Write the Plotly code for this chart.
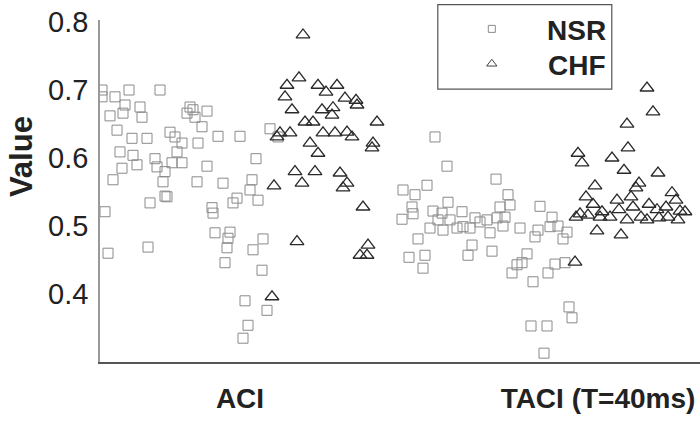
import plotly.graph_objects as go

# Category tick positions and labels on the x axis (jittered scatter)
tick_pos = [1.40, 4.98]
tick_labels = ["ACI", "TACI (T=40ms)"]
y_ticks = [0.4, 0.5, 0.6, 0.7, 0.8]

# NSR (squares) - ACI group
nsr_aci_x = [0.02, 0.02, 0.15, 0.29, 0.60, 0.25, 0.40, 0.10, 0.23, 0.42, 0.90, 0.93, 1.07, 0.87, 0.95,
             0.17, 0.32, 0.47, 1.02, 0.70, 0.75, 0.82, 0.98, 1.18, 1.40, 1.70, 1.78, 0.20, 0.33, 0.37,
             0.77, 0.55, 0.57, 0.72, 0.82, 0.65, 0.22, 0.13, 1.07, 1.56, 0.97, 1.23, 1.52, 0.63, 0.67,
             1.37, 1.50, 0.05, 0.08, 0.50, 0.65, 0.48, 1.12, 1.13, 1.33, 1.58, 1.15, 1.30, 1.28, 1.27,
             1.25, 1.63, 1.53, 1.62, 1.45, 1.67, 1.48, 1.43]
nsr_aci_y = [0.700, 0.690, 0.690, 0.700, 0.700, 0.678, 0.675, 0.662, 0.666, 0.660, 0.675, 0.671, 0.669, 0.666, 0.660,
             0.641, 0.629, 0.629, 0.646, 0.638, 0.631, 0.622, 0.622, 0.632, 0.632, 0.643, 0.631, 0.609, 0.604, 0.590,
             0.609, 0.599, 0.587, 0.593, 0.593, 0.580, 0.585, 0.568, 0.588, 0.599, 0.565, 0.563, 0.568, 0.565, 0.543,
             0.541, 0.553, 0.521, 0.460, 0.534, 0.544, 0.469, 0.527, 0.519, 0.534, 0.538, 0.490, 0.491, 0.482, 0.468,
             0.446, 0.481, 0.465, 0.435, 0.390, 0.376, 0.354, 0.335]

# NSR (squares) - TACI group
nsr_taci_x = [3.35, 3.47, 3.96, 3.03, 3.27, 3.15, 3.12, 4.08, 4.10, 4.00, 3.48, 4.40, 3.02, 3.13, 3.33,
              3.42, 3.62, 3.38, 3.50, 3.30, 3.43, 3.57, 3.63, 3.75, 3.80, 3.87, 3.97, 4.05, 3.70, 3.90,
              4.03, 4.20, 4.38, 4.52, 4.58, 4.67, 4.50, 4.35, 4.63, 3.18, 3.72, 3.68, 3.92, 3.09, 3.25,
              3.23, 4.27, 4.22, 4.17, 4.12, 4.33, 4.48, 4.55, 4.65, 4.69, 4.72, 4.31, 4.47, 4.44]
nsr_taci_y = [0.631, 0.588, 0.569, 0.553, 0.560, 0.546, 0.528, 0.546, 0.531, 0.528, 0.535, 0.529, 0.510, 0.518, 0.522,
              0.519, 0.521, 0.509, 0.509, 0.497, 0.494, 0.497, 0.499, 0.512, 0.506, 0.509, 0.512, 0.513, 0.497, 0.490,
              0.500, 0.497, 0.494, 0.513, 0.500, 0.491, 0.499, 0.484, 0.481, 0.481, 0.472, 0.457, 0.463, 0.454, 0.457,
              0.438, 0.459, 0.446, 0.443, 0.431, 0.418, 0.431, 0.444, 0.446, 0.381, 0.365, 0.353, 0.353, 0.313]

# CHF (triangles) - ACI group
chf_aci_x = [2.03, 1.99, 1.87, 2.18, 2.37, 2.26, 1.85, 2.45, 2.56, 2.57, 1.92, 2.22, 2.33, 2.32, 2.05,
             2.13, 2.77, 1.80, 1.90, 2.23, 2.35, 2.47, 2.52, 1.77, 2.10, 2.73, 2.18, 2.72, 1.95, 2.15,
             2.40, 2.02, 1.74, 2.47, 2.43, 2.63, 1.97, 2.68, 2.60, 2.67, 1.72]
chf_aci_y = [0.781, 0.718, 0.707, 0.707, 0.707, 0.697, 0.690, 0.688, 0.685, 0.678, 0.671, 0.671, 0.674, 0.663, 0.653,
             0.653, 0.653, 0.637, 0.637, 0.637, 0.637, 0.638, 0.631, 0.631, 0.622, 0.622, 0.607, 0.615, 0.580, 0.580,
             0.578, 0.563, 0.559, 0.563, 0.556, 0.528, 0.477, 0.472, 0.457, 0.457, 0.396]

# CHF (triangles) - TACI group
chf_taci_x = [5.47, 5.53, 5.27, 4.78, 4.82, 5.12, 5.28, 5.24, 5.58, 4.95, 5.39, 5.36, 4.86, 4.93, 5.17,
              5.31, 4.80, 5.02, 5.10, 5.19, 5.33, 5.49, 5.57, 5.72, 5.76, 5.80, 5.66, 5.27, 5.41, 5.47,
              5.59, 5.68, 4.97, 5.21, 5.78, 5.85, 4.76, 4.75, 4.88, 5.00]
chf_taci_y = [0.703, 0.668, 0.650, 0.607, 0.593, 0.600, 0.615, 0.582, 0.578, 0.559, 0.563, 0.556, 0.543, 0.532, 0.538,
              0.543, 0.518, 0.521, 0.513, 0.524, 0.528, 0.532, 0.524, 0.549, 0.538, 0.522, 0.528, 0.509, 0.513, 0.509,
              0.512, 0.513, 0.493, 0.487, 0.509, 0.521, 0.513, 0.447, 0.516, 0.513]

FONT = "Liberation Sans, Arial, sans-serif"
SQ_COLOR = "#8a8a8a"
TR_COLOR = "#2a2a2a"

fig = go.Figure()
fig.add_trace(go.Scatter(
    x=nsr_aci_x + nsr_taci_x, y=nsr_aci_y + nsr_taci_y, mode="markers", name="NSR",
    marker=dict(symbol="square-open", size=10, color=SQ_COLOR, line=dict(width=1, color=SQ_COLOR)),
    showlegend=False))
fig.add_trace(go.Scatter(
    x=chf_aci_x + chf_taci_x, y=chf_aci_y + chf_taci_y, mode="markers", name="CHF",
    marker=dict(symbol="triangle-up-open", size=12, color=TR_COLOR, line=dict(width=1.3, color=TR_COLOR)),
    showlegend=False))

# Legend keys on an invisible overlay axis (0..1 box coordinates)
fig.add_trace(go.Scatter(
    x=[0.653], y=[0.974], mode="markers", xaxis="x2", yaxis="y2", showlegend=False, hoverinfo="skip",
    marker=dict(symbol="square-open", size=7, color=SQ_COLOR, line=dict(width=1, color="#555"))))
fig.add_trace(go.Scatter(
    x=[0.653], y=[0.872], mode="markers", xaxis="x2", yaxis="y2", showlegend=False, hoverinfo="skip",
    marker=dict(symbol="triangle-up-open", size=9, color="#444", line=dict(width=1, color="#444"))))

fig.update_layout(
    width=700, height=421,
    margin=dict(l=100, r=0, t=20, b=59),
    paper_bgcolor="white", plot_bgcolor="white",
    font=dict(family=FONT, color="#222"),
    xaxis=dict(range=[0, 6.0], tickmode="array", tickvals=tick_pos,
               ticktext=["<b>" + t + "</b>" for t in tick_labels],
               tickfont=dict(size=28, family=FONT, color="#222"), ticks="",
               ticklabelstandoff=11,
               showgrid=False, zeroline=False, showline=True, linecolor="#555", linewidth=1.5,
               mirror=False),
    yaxis=dict(range=[0.3, 0.803], tickmode="array", tickvals=y_ticks,
               ticktext=["0.4", "0.5", "0.6", "0.7", "0.8"],
               tickfont=dict(size=29, family=FONT, color="#222"), ticks="",
               ticklabelstandoff=4,
               showgrid=False, zeroline=False, showline=True, linecolor="#999", linewidth=1.5),
    xaxis2=dict(overlaying="x", range=[0, 1], visible=False),
    yaxis2=dict(overlaying="y", range=[0, 1], visible=False),
    shapes=[dict(type="rect", xref="paper", yref="paper", x0=0.563, x1=0.853, y0=0.798, y1=1.045,
                 line=dict(color="#555", width=1.2), fillcolor="rgba(0,0,0,0)")],
    annotations=[
        dict(text="<b>Value</b>", textangle=-90, xref="paper", yref="paper", x=-0.1317, y=0.602,
             xanchor="center", yanchor="middle",
             showarrow=False, font=dict(size=31, family=FONT, color="#222")),
        dict(text="<b>NSR</b>", xref="paper", yref="paper", x=0.741, y=0.968, xanchor="left",
             yanchor="middle", showarrow=False, font=dict(size=28, family=FONT, color="#222")),
        dict(text="<b>CHF</b>", xref="paper", yref="paper", x=0.743, y=0.868, xanchor="left",
             yanchor="middle", showarrow=False, font=dict(size=28, family=FONT, color="#222")),
    ],
)

fig.write_html("out.html")
